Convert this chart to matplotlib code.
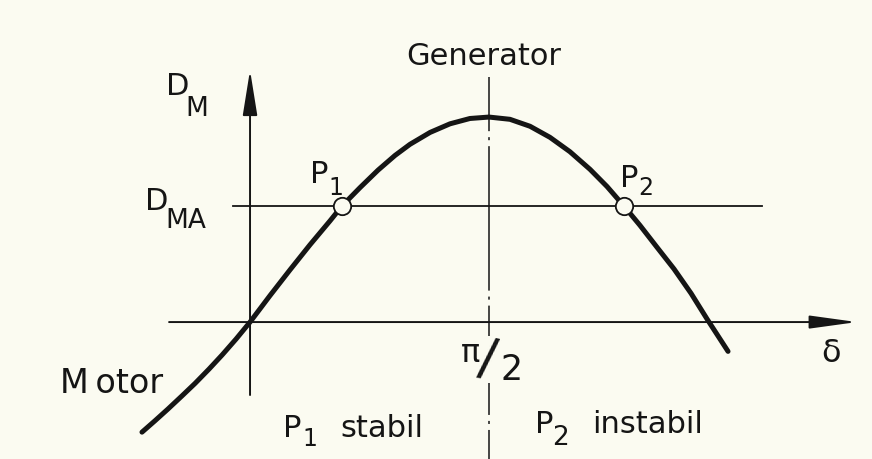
import matplotlib
matplotlib.use("Agg")
import matplotlib.pyplot as plt

# load angle delta (rad) against torque D_M, normalised to the pull-out peak
delta = [-0.710, -0.624, -0.539, -0.447, -0.361, -0.269, -0.184, -0.092, 0.0,
         0.131, 0.263, 0.394, 0.526, 0.604, 0.723, 0.841, 0.953, 1.051, 1.183,
         1.314, 1.445, 1.570, 1.708, 1.840, 1.971, 2.102, 2.234, 2.346, 2.457,
         2.562, 2.674, 2.786, 2.898, 3.003, 3.141]
torque = [-0.537, -0.481, -0.424, -0.360, -0.299, -0.229, -0.161, -0.083, 0.0,
          0.129, 0.255, 0.377, 0.494, 0.566, 0.656, 0.741, 0.813, 0.867, 0.925,
          0.967, 0.993, 1.000, 0.989, 0.955, 0.901, 0.831, 0.745, 0.661, 0.566,
          0.472, 0.365, 0.259, 0.140, 0.015, -0.143]

# load torque D_MA and the two operating points on it
d_ma = 0.566
p_delta = [0.604, 2.457]
half_pi = 1.5708

BG = "#fbfbf1"
INK = "#151515"
W, H = 872, 459


def place(x, y):
    # pixel position on the sheet -> axes fraction
    return x / W, 1 - y / H


def label(x, y, s, size=22, family="DejaVu Sans", **kw):
    ax.text(*place(x, y), s, fontsize=size, color=INK, ha=kw.pop("ha", "left"),
            va=kw.pop("va", "baseline"), transform=ax.transAxes,
            family=family, **kw)


plt.rcParams["lines.scale_dashes"] = False

fig = plt.figure(figsize=(W / 100, H / 100), dpi=100)
fig.patch.set_facecolor(BG)
ax = fig.add_axes([0, 0, 1, 1])
ax.set_facecolor(BG)
ax.set_xlim(-1.643, 4.087)
ax.set_ylim(-0.668, 1.571)
ax.axis("off")

# coordinate axes with arrow heads
ax.annotate("", xy=(3.988, 0), xytext=(-0.532, 0),
            arrowprops=dict(arrowstyle="-|>,head_length=2.9,head_width=0.4",
                            mutation_scale=10, lw=1.4, color=INK,
                            shrinkA=0, shrinkB=0))
ax.annotate("", xy=(0, 1.229), xytext=(0, -0.356),
            arrowprops=dict(arrowstyle="-|>,head_length=2.8,head_width=0.45",
                            mutation_scale=10, lw=1.4, color=INK,
                            shrinkA=0, shrinkB=0))

# load line D_MA
ax.plot([-0.112, 3.364], [d_ma, d_ma], color=INK, lw=1.3)

# centre line at pi/2, broken around its label
centre_dash = (104, 4.3, 2.2, 4.3)
ax.plot([half_pi, half_pi], [1.194, -0.068], color=INK, lw=1.1,
        linestyle=(65, centre_dash))
ax.plot([half_pi, half_pi], [-0.298, -0.668], color=INK, lw=1.1,
        linestyle=(81, centre_dash))

# torque curve
ax.plot(delta, torque, color=INK, lw=3.6, solid_capstyle="round",
        solid_joinstyle="round", zorder=3)

# operating points P1, P2
ax.plot(p_delta, [d_ma] * len(p_delta), "o", ms=12.5, mfc=BG, mec=INK,
        mew=1.3, zorder=5)

# lettering
label(166, 95, "D")
label(185, 116, "M", size=19)
label(406, 65, "Generator")
label(145, 210, "D")
label(165, 228, "MA", size=19)
label(310, 183, "P")
label(328, 195, "1", size=17)
label(620, 187, "P")
label(638, 195, "2", size=17)
label(60, 393, "M\u2009otor", size=24)
label(283, 437, "P")
label(302, 446, "1", size=17)
label(340, 437, "stabil")
label(535, 433, "P")
label(552, 445, "2", size=19)
label(592, 433, "instabil")
label(461, 362, "π", size=23)
label(487, 363, "/", size=42, family="Liberation Sans", ha="center",
      va="center", rotation=-11, rotation_mode="anchor")
label(500, 380, "2", size=25)
label(821, 362, "δ", size=23)

fig.savefig("out.png", dpi=100, facecolor=BG)
